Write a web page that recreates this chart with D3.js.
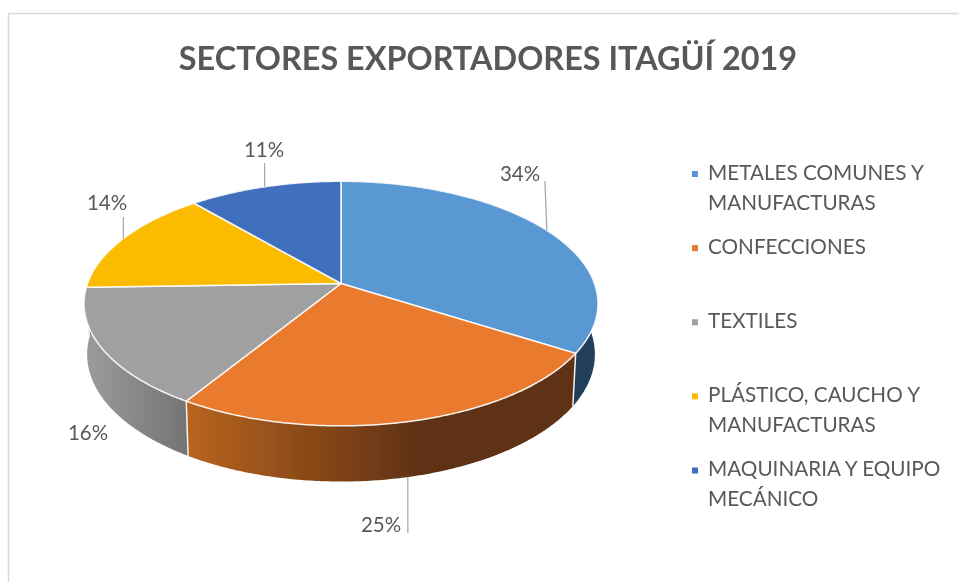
<!DOCTYPE html>
<html>
<head>
<meta charset="utf-8">
<script src="https://cdn.jsdelivr.net/npm/d3@7"></script>
<style>
html,body{margin:0;padding:0;background:#fff;}
svg{display:block;}
text{font-family:Lato,"Open Sans",sans-serif;fill:#595959;}
</style>
</head>
<body>
<script>
const titleText = "SECTORES EXPORTADORES ITAGÜÍ 2019";
const categories = [
  ["METALES COMUNES Y","MANUFACTURAS"],
  ["CONFECCIONES"],
  ["TEXTILES"],
  ["PLÁSTICO, CAUCHO Y","MANUFACTURAS"],
  ["MAQUINARIA Y EQUIPO","MECÁNICO"]
];
const values = [34,24.8,15.7,14.2,11.3];
const topColors = ["#5a98d4","#e97a2f","#a0a0a0","#fbbc00","#416fbd"];
const wallFrom  = ["#213f5c","#b8641f","#9c9c9c","#997300","#264478"];
const wallTo    = ["#213f5c","#5f3112","#747474","#997300","#264478"];
const labelLayout = [
  {x:520,y:173.5,leaderTo:181,lean:-2,wall:false},
  {x:381,y:525,leaderTo:533,lean:0,wall:true},
  {x:88,y:433,leaderTo:null,lean:0,wall:true},
  {x:107,y:203,leaderTo:217,lean:0,wall:false},
  {x:264,y:149.5,leaderTo:163,lean:0,wall:false}
];

const W=959,H=582;
const cx=341,cy=283.5,rx=253.5,ry=119,k=0.164,depth=50,bottomSX=0.988,bottomSY=1.04;

function rim(a,isBottom){
  const u=Math.sin(a), w=-Math.cos(a), d=1-k*w;
  const X=rx*u/d, Y=ry*w/d;
  return isBottom?[cx+X*bottomSX,cy+Y*bottomSY+depth]:[cx+X,cy+Y];
}
function arcPts(a0,a1,isBottom){
  const n=Math.max(2,Math.ceil((a1-a0)/0.01));
  return d3.range(n+1).map(i=>rim(a0+(a1-a0)*i/n,isBottom));
}

const svg=d3.select("body").append("svg").attr("width",W).attr("height",H);
const defs=svg.append("defs");
defs.append("filter").attr("id","soft").attr("x","-5%").attr("y","-5%").attr("width","110%").attr("height","110%")
  .append("feGaussianBlur").attr("stdDeviation",0.55);

svg.append("path").attr("d",`M8.5,${H}V13.5H${W}`).attr("fill","none").attr("stroke","#d9d9d9").attr("stroke-width",1.5);

const pie=d3.pie().sort(null).value(d=>d)(values);
const line=d3.line();
const root=svg.append("g").attr("filter","url(#soft)");

pie.forEach((s,i)=>{
  const a0=s.startAngle,a1=s.endAngle;
  const top=arcPts(a0,a1,false), bot=arcPts(a0,a1,true).reverse();
  const xs=top.concat(bot).map(p=>p[0]);
  const grad=defs.append("linearGradient").attr("id","wall"+i).attr("gradientUnits","userSpaceOnUse")
    .attr("x1",d3.min(xs)).attr("x2",i===1?d3.min(xs)+235:d3.max(xs)).attr("y1",0).attr("y2",0);
  grad.append("stop").attr("offset",0).attr("stop-color",wallFrom[i]);
  grad.append("stop").attr("offset",1).attr("stop-color",wallTo[i]);
  root.append("path").attr("d",line(top.concat(bot))+"Z").attr("fill",`url(#wall${i})`);
});
pie.forEach(s=>{
  const a=s.startAngle;
  if(a>Math.PI/2&&a<Math.PI*1.5){
    root.append("path").attr("d",line([rim(a,false),rim(a,true)])).attr("stroke","#f2f2f2").attr("stroke-width",1.5).attr("fill","none");
  }
});
pie.forEach((s,i)=>{
  const pts=[[cx,cy]].concat(arcPts(s.startAngle,s.endAngle,false));
  root.append("path").attr("d",line(pts)+"Z").attr("fill",topColors[i]).attr("stroke","#fff").attr("stroke-opacity",0.9).attr("stroke-width",1.5).attr("stroke-linejoin","round");
});
pie.forEach((s,i)=>{
  const L=labelLayout[i];
  if(L.leaderTo===null) return;
  const mid=(s.startAngle+s.endAngle)/2;
  const p=rim(mid,L.wall);
  root.append("path").attr("d",line([p,[p[0]+L.lean,L.leaderTo]])).attr("stroke","#a6a6a6").attr("stroke-width",1.2).attr("fill","none");
});
pie.forEach((s,i)=>{
  const L=labelLayout[i];
  root.append("text").attr("x",L.x).attr("y",L.y).attr("dy","0.35em").attr("text-anchor","middle")
    .attr("font-size",20.5).text(d3.format(".0%")(s.data/100));
});
root.append("text").attr("x",488).attr("y",70).attr("text-anchor","middle").attr("font-size",32.4).attr("font-weight",700).text(titleText);
const legendY=d3.scalePoint().domain(d3.range(categories.length)).range([174,470.5]);
categories.forEach((c,i)=>{
  const y=legendY(i);
  root.append("rect").attr("x",692).attr("y",y-3).attr("width",6).attr("height",6).attr("fill",topColors[i]);
  c.forEach((t,j)=>{
    root.append("text").attr("x",708).attr("y",y+5.5+j*30).attr("font-size",20.7).text(t);
  });
});
</script>
</body>
</html>
